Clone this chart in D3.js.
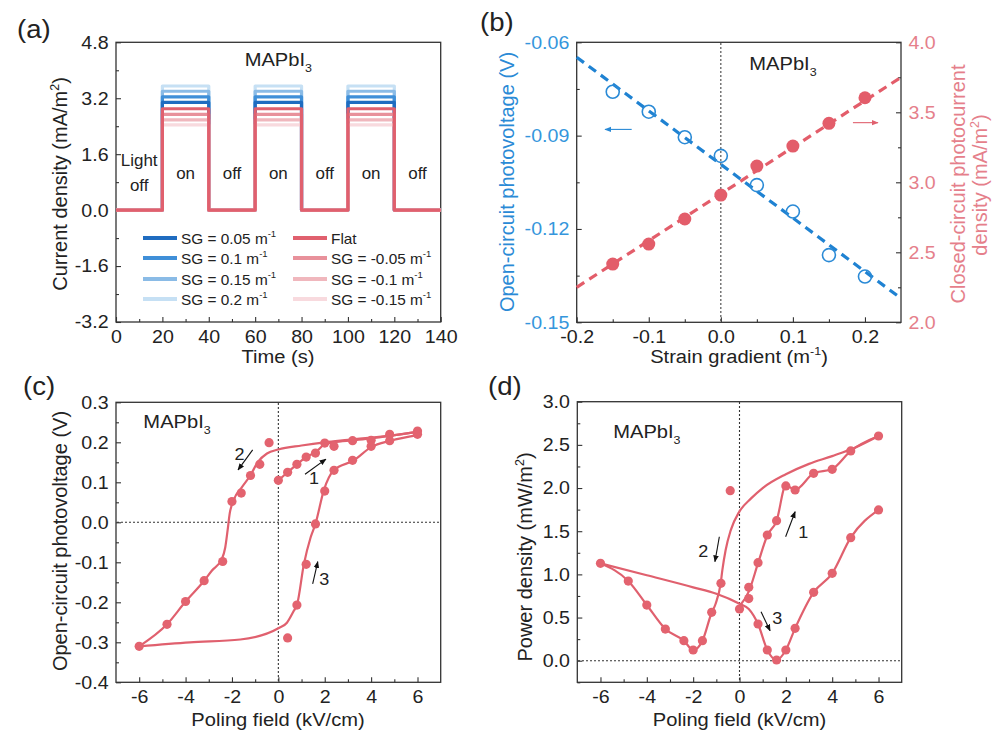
<!DOCTYPE html>
<html><head><meta charset="utf-8">
<script src="https://cdn.jsdelivr.net/npm/d3@7/dist/d3.min.js"></script>
<style>
html,body{margin:0;padding:0;background:#fff;}
svg text{font-family:"Liberation Sans",Arial,Helvetica,sans-serif;}
</style></head>
<body>
<svg id="fig" width="1000" height="738" viewBox="0 0 1000 738"></svg>
<script>
// ---------------- Panel (a) data ----------------
const aTimeBreaks = [0, 20, 40, 60, 80, 100, 120, 140];
const aLightState = [0, 1, 0, 1, 0, 1, 0];
const aLightText = ["off", "on", "off", "on", "off", "on", "off"];
const aSeriesNames = ["SG = 0.05 m", "SG = 0.1 m", "SG = 0.15 m", "SG = 0.2 m", "Flat", "SG = -0.05 m", "SG = -0.1 m", "SG = -0.15 m"];
const aSeriesOnLevel = [3.08, 3.24, 3.40, 3.55, 2.90, 2.74, 2.58, 2.44];
const aSeriesColors = ["#1f6cc0", "#3f8fd8", "#8abbe6", "#c6e0f4", "#e0606e", "#e8919b", "#f0b7bd", "#f8dade"];
const aXTicks = [0, 20, 40, 60, 80, 100, 120, 140];
const aXMinor = [10, 30, 50, 70, 90, 110, 130];
const aYTicks = [-3.2, -1.6, 0, 1.6, 3.2, 4.8];
const aYMinor = [-2.4, -0.8, 0.8, 2.4, 4.0];

// ---------------- Panel (b) data ----------------
const bSG = [-0.15, -0.1, -0.05, 0, 0.05, 0.1, 0.15, 0.2];
const bVoc = [-0.0759, -0.0823, -0.0905, -0.0965, -0.1059, -0.1144, -0.1284, -0.1353];
const bJsc = [2.416, 2.559, 2.738, 2.909, 3.116, 3.259, 3.421, 3.604];
const bFitX = [-0.2, 0.25];
const bFitVoc = [-0.0648, -0.1423];
const bFitJsc = [2.25, 3.75];
const bXTicks = [-0.2, -0.1, 0, 0.1, 0.2];
const bXMinor = [-0.15, -0.05, 0.05, 0.15];
const bYLTicks = [-0.15, -0.12, -0.09, -0.06];
const bYLMinor = [-0.135, -0.105, -0.075];
const bYRTicks = [2.0, 2.5, 3.0, 3.5, 4.0];
const bYRMinor = [2.25, 2.75, 3.25, 3.75];

// ---------------- Panel (c) data ----------------
const cPtX = [0, 0.4, 0.8, 1.2, 1.6, 2.0, 2.4, 3.2, 4.0, 4.8, 6,
              6, 4.8, 4.0, 3.2, 2.4, 2.0, 1.6, 1.2, 0.8, 0.4,
              -0.4, -0.8, -1.2, -1.6, -2.0, -2.4, -3.2, -4.0, -4.8, -6];
const cPtY = [0.105, 0.125, 0.145, 0.163, 0.173, 0.198, 0.19, 0.204, 0.205, 0.22, 0.228,
              0.22, 0.204, 0.19, 0.155, 0.13, 0.078, -0.004, -0.105, -0.207, -0.289,
              0.199, 0.145, 0.117, 0.073, 0.052, -0.098, -0.146, -0.198, -0.255, -0.31];
const cCurve1X = [0, 0.4, 0.8, 1.2, 1.6, 2.0, 2.4, 3.2, 4.0, 4.8, 6];
const cCurve1Y = [0.105, 0.125, 0.145, 0.163, 0.175, 0.195, 0.2, 0.205, 0.21, 0.216, 0.226];
const cCurve2X = [-6, -4.8, -4.0, -3.2, -2.87, -2.44, -2.29, -2.19, -2.1, -1.93, -1.57, -1.21, -0.88, -0.49, 0, 1, 2, 3, 4, 5, 6];
const cCurve2Y = [-0.31, -0.255, -0.198, -0.146, -0.121, -0.092, -0.063, -0.021, 0.021, 0.055, 0.088, 0.117, 0.151, 0.172, 0.182, 0.192, 0.2, 0.206, 0.212, 0.218, 0.226];
const cCurve3X = [-6, -3.81, -1.64, 0, 0.37, 0.66, 0.81, 1.1, 1.39, 1.6, 1.96, 2.39, 3.26, 4.0, 4.84, 6];
const cCurve3Y = [-0.31, -0.30, -0.293, -0.265, -0.251, -0.222, -0.205, -0.105, -0.038, -0.004, 0.08, 0.13, 0.155, 0.188, 0.204, 0.218];
const cXTicks = [-6, -4, -2, 0, 2, 4, 6];
const cXMinor = [-5, -3, -1, 1, 3, 5];
const cYTicks = [-0.4, -0.3, -0.2, -0.1, 0, 0.1, 0.2, 0.3];
const cYMinor = [-0.35, -0.25, -0.15, -0.05, 0.05, 0.15, 0.25];

// ---------------- Panel (d) data ----------------
const dPtX = [-6, -4.8, -4.0, -3.2, -2.4, -2.0, -1.6, -1.2, -0.8, -0.4,
              0, 0.4, 0.4, 0.8, 1.2, 1.6, 2.0, 2.4, 3.2, 4.0, 4.8, 6,
              6, 4.8, 4.0, 3.2, 2.4, 2.0, 1.6, 1.2, 0.8];
const dPtY = [1.128, 0.923, 0.645, 0.367, 0.232, 0.124, 0.232, 0.56, 0.896, 1.97,
              0.599, 0.72, 0.85, 1.135, 1.456, 1.622, 2.024, 1.977, 2.17, 2.217, 2.43, 2.603,
              1.746, 1.425, 1.012, 0.792, 0.375, 0.124, 0.008, 0.124, 0.425];
const dCurve1X = [0, 0.4, 0.8, 1.2, 1.6, 2.0, 2.4, 3.2, 4.0, 4.8, 6];
const dCurve1Y = [0.63, 0.8, 1.13, 1.45, 1.62, 2.03, 1.98, 2.17, 2.22, 2.43, 2.603];
const dCurve2X = [-6, -4.8, -4.0, -3.2, -2.4, -2.0, -1.6, -1.21, -1.03, -0.81, -0.74, -0.6, -0.38, 0, 0.5, 1.0, 2.0, 3.0, 4.0, 5.0, 6];
const dCurve2Y = [1.128, 0.923, 0.645, 0.367, 0.232, 0.124, 0.232, 0.55, 0.66, 0.9, 1.05, 1.28, 1.51, 1.73, 1.88, 2.0, 2.16, 2.28, 2.37, 2.47, 2.603];
const dCurve3X = [-6, -4, -2, -1, 0, 0.4, 0.8, 1.2, 1.6, 2.0, 2.4, 3.2, 4.0, 4.8, 6];
const dCurve3Y = [1.128, 0.99, 0.85, 0.775, 0.66, 0.6, 0.425, 0.124, 0.008, 0.124, 0.375, 0.792, 1.012, 1.425, 1.746];
const dXTicks = [-6, -4, -2, 0, 2, 4, 6];
const dXMinor = [-5, -3, -1, 1, 3, 5];
const dYTicks = [0, 0.5, 1.0, 1.5, 2.0, 2.5, 3.0];
const dYMinor = [-0.25, 0.25, 0.75, 1.25, 1.75, 2.25, 2.75];

// ---------------- helpers ----------------
const SX = 1.06;
const INK = "#222";
const RED = "#e0606e";
const DOT = "#e3636f";
const BLUE = "#2a8ad6";
const PINK = "#e57f8b";
const svg = d3.select("#fig");
const fmt = s => d => d3.format(s)(d).replace("\u2212", "-");

const defs = svg.append("defs");
function marker(id, color) {
  defs.append("marker").attr("id", id).attr("viewBox", "0 0 10 10").attr("refX", 9).attr("refY", 5)
    .attr("markerWidth", 7).attr("markerHeight", 7).attr("orient", "auto-start-reverse")
    .attr("markerUnits", "userSpaceOnUse")
    .append("path").attr("d", "M0,1 L10,5 L0,9 Z").attr("fill", color);
}
marker("arrK", "#111"); marker("arrB", BLUE); marker("arrR", RED);

function rich(t, parts, size) {
  let shift = 0;
  parts.forEach(([s, kind]) => {
    const target = kind === "sub" ? size * 0.32 : kind === "sup" ? -size * 0.42 : 0;
    const sp = t.append("tspan").attr("dy", target - shift).text(s);
    if (kind) sp.attr("font-size", size * 0.62);
    shift = target;
  });
}
function T(x, y, parts, o = {}) {
  const size = o.size || 19;
  const t = svg.append("text")
    .attr("transform", o.rotate ? `translate(${x},${y}) rotate(-90)` : `translate(${x},${y}) scale(${SX},1)`)
    .attr("font-size", size).attr("fill", o.fill || INK)
    .attr("text-anchor", o.anchor || "start");
  if (typeof parts === "string") t.text(parts); else rich(t, parts, size);
  return t;
}

function styleAxis(sel, color, size) {
  sel.select(".domain").remove();
  sel.selectAll("line").attr("stroke", "#333").attr("stroke-width", 1.1);
  sel.selectAll("text").attr("font-size", size).attr("fill", color)
    .attr("font-family", '"Liberation Sans",Arial,sans-serif')
    .attr("transform", `scale(${SX},1)`);
}

function frame(x, y, c) {
  const [x0, x1] = x.range(), [y0, y1] = y.range();
  const g = svg.append("g");
  g.append("g").attr("transform", `translate(0,${y0})`)
    .call(d3.axisBottom(x).tickValues(c.xMajor).tickFormat(c.xFmt).tickSizeInner(-5).tickSizeOuter(0).tickPadding(8))
    .call(s => styleAxis(s, INK, 18.5));
  g.append("g").attr("transform", `translate(0,${y0})`)
    .call(d3.axisBottom(x).tickValues(c.xMinor).tickFormat("").tickSizeInner(-3).tickSizeOuter(0))
    .call(s => styleAxis(s, INK, 18.5));
  g.append("g").attr("transform", `translate(${x0},0)`)
    .call(d3.axisLeft(y).tickValues(c.yMajor).tickFormat(c.yFmt).tickSizeInner(-5).tickSizeOuter(0).tickPadding(7))
    .call(s => styleAxis(s, c.yColor || INK, 18.5));
  g.append("g").attr("transform", `translate(${x0},0)`)
    .call(d3.axisLeft(y).tickValues(c.yMinor).tickFormat("").tickSizeInner(-3).tickSizeOuter(0))
    .call(s => styleAxis(s, INK, 18.5));
  g.append("rect").attr("x", x0).attr("y", y1).attr("width", x1 - x0).attr("height", y0 - y1)
    .attr("fill", "none").attr("stroke", "#333").attr("stroke-width", 1.3);
  return g;
}

function dotted(x1, y1, x2, y2, color) {
  svg.append("line").attr("x1", x1).attr("y1", y1).attr("x2", x2).attr("y2", y2)
    .attr("stroke", color || "#333").attr("stroke-width", 1.1).attr("stroke-dasharray", "2,2");
}
function arrow(x1, y1, x2, y2, m, color) {
  svg.append("line").attr("x1", x1).attr("y1", y1).attr("x2", x2).attr("y2", y2)
    .attr("stroke", color || "#111").attr("stroke-width", 1.1).attr("marker-end", `url(#${m})`);
}
const MAP = [["MAPbI"], ["3", "sub"]];

// ================= Panel (a) =================
{
  const x = d3.scaleLinear([0, 140], [116, 440.7]);
  const y = d3.scaleLinear([-3.2, 4.8], [322, 42.3]);
  frame(x, y, { xMajor: aXTicks, xMinor: aXMinor, xFmt: fmt("d"), yMajor: aYTicks, yMinor: aYMinor, yFmt: fmt(".1f") });

  const line = d3.line().x(d => x(d[0])).y(d => y(d[1]));
  const wave = lvl => {
    const pts = [];
    aLightState.forEach((on, i) => {
      const v = on ? lvl : 0;
      pts.push([aTimeBreaks[i], v], [aTimeBreaks[i + 1], v]);
    });
    return pts;
  };
  const order = [3, 2, 1, 0, 7, 6, 5, 4];
  order.forEach(i => {
    svg.append("path").attr("d", line(wave(aSeriesOnLevel[i]))).attr("fill", "none")
      .attr("stroke", aSeriesColors[i]).attr("stroke-width", 3.2).attr("stroke-linejoin", "round");
  });

  // light state labels
  aLightText.forEach((s, i) => {
    const xm = x((aTimeBreaks[i] + aTimeBreaks[i + 1]) / 2);
    if (i === 0) {
      T(xm, y(1.26), "Light", { size: 16, anchor: "middle" });
      T(xm, y(0.55), "off", { size: 16, anchor: "middle" });
    } else {
      T(xm, y(0.88), s, { size: 16, anchor: "middle" });
    }
  });
  T(x(70), y(4.13), MAP, { size: 19, anchor: "middle" });

  // legend
  const rowsY = [238, 258, 279, 299];
  aSeriesNames.forEach((nm, i) => {
    const col = i < 4 ? 0 : 1, r = i % 4;
    const lx = col ? 293 : 143, ty = rowsY[r];
    svg.append("line").attr("x1", lx).attr("x2", lx + 34).attr("y1", ty).attr("y2", ty)
      .attr("stroke", aSeriesColors[i]).attr("stroke-width", 4);
    const parts = nm === "Flat" ? [["Flat"]] : [[nm], ["-1", "sup"]];
    T(lx + 38, ty + 5.5, parts, { size: 14.5 });
  });

  T(278, 363, "Time (s)", { size: 19, anchor: "middle" });
  T(67, 184, [["Current density (mA/m"], ["2", "sup"], [")"]], { size: 20, anchor: "middle", rotate: true });
  T(17, 38, "(a)", { size: 26 });
}

// ================= Panel (b) =================
{
  const x = d3.scaleLinear([-0.2, 0.25], [576.7, 901]);
  const yL = d3.scaleLinear([-0.15, -0.06], [322.3, 42.3]);
  const yR = d3.scaleLinear([2.0, 4.0], [322.3, 42.3]);
  frame(x, yL, { xMajor: bXTicks, xMinor: bXMinor, xFmt: fmt(".1f"), yMajor: bYLTicks, yMinor: bYLMinor, yFmt: fmt(".2f"), yColor: "#3596dc" });
  svg.append("g").attr("transform", `translate(901,0)`)
    .call(d3.axisRight(yR).tickValues(bYRTicks).tickFormat(fmt(".1f")).tickSizeInner(-5).tickSizeOuter(0).tickPadding(7))
    .call(s => styleAxis(s, PINK, 18.5));
  svg.append("g").attr("transform", `translate(901,0)`)
    .call(d3.axisRight(yR).tickValues(bYRMinor).tickFormat("").tickSizeInner(-3).tickSizeOuter(0))
    .call(s => styleAxis(s, PINK, 18.5));

  dotted(x(0), 43, x(0), 321, "#444");

  const fitL = d3.line().x((d, i) => x(bFitX[i])).y(d => yL(d));
  const fitR = d3.line().x((d, i) => x(bFitX[i])).y(d => yR(d));
  svg.append("path").attr("d", fitR(bFitJsc)).attr("stroke", "#e35d6a").attr("stroke-width", 3.2)
    .attr("stroke-dasharray", "9,6").attr("fill", "none");
  svg.append("path").attr("d", fitL(bFitVoc)).attr("stroke", "#1f82d2").attr("stroke-width", 3.2)
    .attr("stroke-dasharray", "9,6").attr("fill", "none");

  svg.append("g").selectAll("circle").data(bSG).join("circle")
    .attr("cx", d => x(d)).attr("cy", (d, i) => yR(bJsc[i])).attr("r", 6.5).attr("fill", "#e35d6a");
  svg.append("g").selectAll("circle").data(bSG).join("circle")
    .attr("cx", d => x(d)).attr("cy", (d, i) => yL(bVoc[i])).attr("r", 6.5)
    .attr("fill", "none").attr("stroke", BLUE).attr("stroke-width", 1.6);

  arrow(x(-0.1237), yL(-0.088), x(-0.1607), yL(-0.088), "arrB", BLUE);
  arrow(x(0.1833), yR(3.426), x(0.218), yR(3.426), "arrR", RED);

  T(x(0.0395), yL(-0.0689), MAP, { size: 19 });
  T(739, 363, [["Strain gradient (m"], ["-1", "sup"], [")"]], { size: 19, anchor: "middle" });
  T(514, 182, "Open-circuit photovoltage (V)", { size: 20, anchor: "middle", rotate: true, fill: "#2a8ad6" });
  T(965, 184, "Closed-circuit photocurrent", { size: 20, anchor: "middle", rotate: true, fill: PINK });
  T(987, 185, [["density (mA/m"], ["2", "sup"], [")"]], { size: 20, anchor: "middle", rotate: true, fill: PINK });
  T(480, 31, "(b)", { size: 26 });
}

// ================= Panel (c) =================
{
  const x = d3.scaleLinear([-7, 7], [116, 440.7]);
  const y = d3.scaleLinear([-0.4, 0.3], [682.3, 402.3]);
  frame(x, y, { xMajor: cXTicks, xMinor: cXMinor, xFmt: fmt("d"), yMajor: cYTicks, yMinor: cYMinor, yFmt: fmt(".1f") });
  dotted(x(0), 403, x(0), 681);
  dotted(117, y(0), 440, y(0));

  const curve = (xs, ys) => d3.line().curve(d3.curveMonotoneX).x((d, i) => x(xs[i])).y(d => y(d))(ys);
  [[cCurve1X, cCurve1Y], [cCurve2X, cCurve2Y], [cCurve3X, cCurve3Y]].forEach(([xs, ys]) => {
    svg.append("path").attr("d", curve(xs, ys)).attr("fill", "none").attr("stroke", RED).attr("stroke-width", 2.2);
  });
  svg.append("g").selectAll("circle").data(cPtX).join("circle")
    .attr("cx", d => x(d)).attr("cy", (d, i) => y(cPtY[i])).attr("r", 4.6).attr("fill", DOT);

  arrow(x(-1.108), y(0.181), x(-1.738), y(0.131), "arrK");
  T(x(-1.67), y(0.17) + 6, "2", { size: 17, anchor: "middle" });
  arrow(x(1.15), y(0.12), x(2.05), y(0.158), "arrK");
  T(x(1.54), y(0.11) + 6, "1", { size: 17, anchor: "middle" });
  arrow(x(1.48), y(-0.154), x(1.70), y(-0.0985), "arrK");
  T(x(1.98), y(-0.1425) + 6, "3", { size: 17, anchor: "middle" });

  T(x(-5.82), y(0.236), MAP, { size: 19 });
  T(278, 726, "Poling field (kV/cm)", { size: 19, anchor: "middle" });
  T(67, 541, "Open-circuit photovoltage (V)", { size: 20, anchor: "middle", rotate: true });
  T(23, 395, "(c)", { size: 26 });
}

// ================= Panel (d) =================
{
  const x = d3.scaleLinear([-7, 7], [577.3, 901.7]);
  const y = d3.scaleLinear([-0.25, 3.0], [682.3, 401.7]);
  frame(x, y, { xMajor: dXTicks, xMinor: dXMinor, xFmt: fmt("d"), yMajor: dYTicks, yMinor: dYMinor, yFmt: fmt(".1f") });
  dotted(x(0), 402, x(0), 681);
  dotted(578, y(0), 901, y(0));

  const curve = (xs, ys) => d3.line().curve(d3.curveMonotoneX).x((d, i) => x(xs[i])).y(d => y(d))(ys);
  [[dCurve1X, dCurve1Y], [dCurve2X, dCurve2Y], [dCurve3X, dCurve3Y]].forEach(([xs, ys]) => {
    svg.append("path").attr("d", curve(xs, ys)).attr("fill", "none").attr("stroke", RED).attr("stroke-width", 2.2);
  });
  svg.append("g").selectAll("circle").data(dPtX).join("circle")
    .attr("cx", d => x(d)).attr("cy", (d, i) => y(dPtY[i])).attr("r", 4.6).attr("fill", DOT);

  arrow(x(1.99), y(1.436), x(2.4), y(1.726), "arrK");
  T(x(2.75), y(1.494) + 6, "1", { size: 17, anchor: "middle" });
  arrow(x(-0.87), y(1.436), x(-1.06), y(1.147), "arrK");
  T(x(-1.56), y(1.274) + 6, "2", { size: 17, anchor: "middle" });
  arrow(x(0.93), y(0.568), x(1.32), y(0.347), "arrK");
  T(x(1.63), y(0.498) + 6, "3", { size: 17, anchor: "middle" });

  T(x(-5.45), y(2.58), MAP, { size: 19 });
  T(739.5, 726, "Poling field (kV/cm)", { size: 19, anchor: "middle" });
  T(532, 557, [["Power density (mW/m"], ["2", "sup"], [")"]], { size: 20, anchor: "middle", rotate: true });
  T(488, 395, "(d)", { size: 26 });
}
</script>
</body></html>
